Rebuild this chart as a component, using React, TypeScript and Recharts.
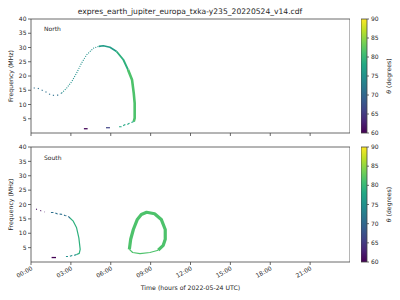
import { ScatterChart, Scatter, XAxis, YAxis, ReferenceArea } from "recharts";

type Pt = { t: number; f: number };

const TITLE = "expres_earth_jupiter_europa_txka-y235_20220524_v14.cdf";
const HOUR_TICKS = [0, 3, 6, 9, 12, 15, 18, 21];
const FREQ_TICKS = [5, 10, 15, 20, 25, 30, 35, 40];
const THETA_TICKS = [60, 65, 70, 75, 80, 85, 90];

// north hemisphere arc (hours, MHz)
const northLead: Pt[] = [
  { t: 0.2, f: 15.8 }, { t: 0.45, f: 15.8 }, { t: 0.8, f: 15.1 }, { t: 1.05, f: 14.6 },
  { t: 1.55, f: 13.2 }, { t: 2.05, f: 13.3 }, { t: 2.3, f: 14.0 },
];
const northRise: Pt[] = [
  { t: 2.3, f: 14.0 }, { t: 2.68, f: 15.75 }, { t: 3.06, f: 18 }, { t: 3.43, f: 21 },
  { t: 3.8, f: 24.5 }, { t: 4.18, f: 27.4 }, { t: 4.68, f: 29.7 }, { t: 5.1, f: 30.4 },
];
const northCrest: Pt[] = [
  { t: 5.1, f: 30.4 }, { t: 5.44, f: 30.6 }, { t: 5.94, f: 30.1 }, { t: 6.44, f: 28.6 },
];
const northFall: Pt[] = [
  { t: 6.44, f: 28.6 }, { t: 6.95, f: 25.7 }, { t: 7.3, f: 22.2 },
];
const northFallLow: Pt[] = [
  { t: 7.3, f: 22.2 }, { t: 7.6, f: 18.7 }, { t: 7.73, f: 14 }, { t: 7.8, f: 10.5 },
  { t: 7.8, f: 5.2 }, { t: 7.73, f: 4 },
];
const northTail: Pt[] = [
  { t: 7.73, f: 4 }, { t: 7.4, f: 3.4 }, { t: 7.2, f: 2.9 }, { t: 7.04, f: 2.9 },
  { t: 6.84, f: 2.2 }, { t: 6.6, f: 2.2 },
];
const northLowBlue: Pt[] = [{ t: 5.64, f: 1.85 }, { t: 5.94, f: 1.85 }];
const northLowPurple: Pt[] = [{ t: 3.98, f: 1.5 }, { t: 4.26, f: 1.5 }];

// south hemisphere arcs
const southHead: Pt[] = [{ t: 0.38, f: 18.4 }, { t: 0.75, f: 17.8 }, { t: 1.05, f: 17.4 }];
const southUpper: Pt[] = [
  { t: 1.5, f: 17.2 }, { t: 1.75, f: 17.2 }, { t: 2.0, f: 16.7 }, { t: 2.3, f: 16.6 },
  { t: 2.55, f: 16.2 }, { t: 2.8, f: 15.9 }, { t: 2.93, f: 15.3 },
];
const southBend: Pt[] = [
  { t: 2.93, f: 15.3 }, { t: 3.18, f: 14.2 }, { t: 3.43, f: 11.9 }, { t: 3.6, f: 8.4 },
  { t: 3.7, f: 4.4 }, { t: 3.63, f: 3.0 }, { t: 3.43, f: 2.6 },
];
const southTail: Pt[] = [
  { t: 3.43, f: 2.6 }, { t: 3.25, f: 2.3 }, { t: 3.1, f: 2.3 }, { t: 2.88, f: 1.9 }, { t: 2.63, f: 1.9 },
];
const southLow: Pt[] = [{ t: 1.55, f: 1.55 }, { t: 1.88, f: 1.55 }];
const southLoop: Pt[] = [
  { t: 7.4, f: 4.4 }, { t: 7.5, f: 7.9 }, { t: 7.7, f: 11.3 }, { t: 8.0, f: 14.8 },
  { t: 8.3, f: 16.5 }, { t: 8.7, f: 17.3 }, { t: 9.3, f: 16.8 }, { t: 9.8, f: 14.8 },
  { t: 10.1, f: 11.3 }, { t: 10.1, f: 7.9 }, { t: 9.95, f: 5.8 }, { t: 9.57, f: 4.1 },
];
const southLoopBase: Pt[] = [
  { t: 9.57, f: 4.1 }, { t: 8.95, f: 3.3 }, { t: 8.2, f: 2.9 }, { t: 7.65, f: 3.3 }, { t: 7.4, f: 4.4 },
];

// theta (degrees) per segment
const northTheta = [71, 75, 76.5, 79, 81.5, 78, 66, 60.5];
const southTheta = [61, 71, 79, 75, 60, 81.5, 81.5];

const northSegs = [northLead, northRise, northCrest, northFall, northFallLow, northTail, northLowBlue, northLowPurple];
const southSegs = [southHead, southUpper, southBend, southTail, southLow, southLoop, southLoopBase];

// stroke styles, same order as the segments
const northStyle = [
  { w: 1.1, dash: "1.2 3" }, { w: 1.1, dash: "1 1.3" }, { w: 1.6 }, { w: 1.9 }, { w: 2.6 },
  { w: 1.1, dash: "2.5 2" }, { w: 1.2 }, { w: 1.3 },
];
const southStyle = [
  { w: 1.1, dash: "1 3.5" }, { w: 1.1, dash: "2.5 2" }, { w: 1.2 }, { w: 1.1, dash: "2.5 2" },
  { w: 1.3 }, { w: 3.2 }, { w: 1.2 },
];

const VIRIDIS = ["#440154", "#482475", "#414487", "#355f8d", "#2a788e", "#21918c", "#22a884", "#44bf70", "#7ad151", "#bddf26", "#fde725"];

function viridis(theta: number) {
  const u = Math.max(0, Math.min(1, (theta - 60) / 30)) * 10;
  const i = Math.min(9, Math.floor(u));
  const k = u - i;
  const a = VIRIDIS[i], b = VIRIDIS[i + 1];
  const ch = (s: string, o: number) => parseInt(s.slice(o, o + 2), 16);
  const c = [1, 3, 5].map((o) => Math.round(ch(a, o) * (1 - k) + ch(b, o) * k));
  return `rgb(${c[0]},${c[1]},${c[2]})`;
}

const hhmm = (h: number) => `${String(h).padStart(2, "0")}:00`;
const FONT = "DejaVu Sans, sans-serif";
const INK = "#262626";

const noShape = () => <g />;
const noTick = () => <g />;

const hourTick = (p: any) => {
  const { x, y, payload } = p;
  return (
    <text x={x} y={y} dy={4} transform={`rotate(-30, ${x}, ${y})`} textAnchor="end" fontSize={6} fill={INK} fontFamily={FONT}>
      {hhmm(payload.value)}
    </text>
  );
};

function Panel({ segs, thetas, styles, top, labels }: { segs: Pt[][]; thetas: number[]; styles: any[]; top: number; labels: boolean }) {
  const axisH = labels ? 30 : 5;
  const plotH = labels ? 115 : 114;
  return (
    <div style={{ position: "absolute", left: 0, top }}>
      <ScatterChart width={350} height={9 + plotH + axisH} margin={{ top: 9, right: 0, bottom: 0, left: 0 }}>
        <XAxis
          type="number" dataKey="t" domain={[0, 24]} ticks={HOUR_TICKS} allowDataOverflow
          height={axisH} axisLine={false} tickSize={3} tickMargin={1}
          tickLine={{ stroke: "#444", strokeWidth: 0.8 }} tick={labels ? hourTick : noTick}
        />
        <YAxis
          type="number" dataKey="f" domain={[0, 40]} ticks={FREQ_TICKS} allowDataOverflow
          width={31} axisLine={false} tickSize={3} tickMargin={1.5}
          tickLine={{ stroke: "#444", strokeWidth: 0.8 }}
          tick={{ fontSize: 6, fill: INK, fontFamily: FONT }}
        />
        {segs.map((d, i) => (
          <Scatter
            key={i} data={d} shape={noShape} lineType="joint" isAnimationActive={false}
            line={{ stroke: viridis(thetas[i]), strokeWidth: styles[i].w, strokeDasharray: styles[i].dash, strokeLinejoin: "round" }}
          />
        ))}
        <ReferenceArea x1={0} x2={24} y1={0} y2={40} fill="none" fillOpacity={0} stroke="#444" strokeWidth={0.8} />
      </ScatterChart>
    </div>
  );
}

function ColorBar({ top, id, plotH }: { top: number; id: string; plotH: number }) {
  return (
    <div style={{ position: "absolute", left: 361, top }}>
      <ScatterChart width={39} height={9 + plotH + 5} margin={{ top: 9, right: 0, bottom: 5, left: 0 }}>
        <defs>
          <linearGradient id={id} x1="0" y1="1" x2="0" y2="0">
            {VIRIDIS.map((c, i) => (
              <stop key={i} offset={`${i * 10}%`} stopColor={c} />
            ))}
          </linearGradient>
        </defs>
        <XAxis type="number" dataKey="x" domain={[0, 1]} hide />
        <YAxis
          type="number" dataKey="theta" domain={[60, 90]} ticks={THETA_TICKS} orientation="right"
          width={33} axisLine={false} tickSize={2} tickMargin={2}
          tickLine={{ stroke: "#444", strokeWidth: 0.8 }}
          tick={{ fontSize: 6, fill: INK, fontFamily: FONT }}
        />
        <Scatter data={THETA_TICKS.map((v) => ({ x: 0.5, theta: v }))} shape={noShape} isAnimationActive={false} />
        <ReferenceArea x1={0} x2={1} y1={60} y2={90} fill={`url(#${id})`} fillOpacity={1} stroke="#444" strokeWidth={0.8} />
      </ScatterChart>
    </div>
  );
}

export default function App() {
  return (
    <div style={{ position: "absolute", left: 0, top: 0, width: 400, height: 300, background: "#fff", overflow: "hidden" }}>
      <Panel segs={northSegs} thetas={northTheta} styles={northStyle} top={10} labels={false} />
      <Panel segs={southSegs} thetas={southTheta} styles={southStyle} top={138} labels />
      <ColorBar top={10} id="virN" plotH={114} />
      <ColorBar top={138} id="virS" plotH={115} />
      <svg width={400} height={300} style={{ position: "absolute", left: 0, top: 0, pointerEvents: "none" }} fontFamily={FONT} fill={INK}>
        <text x={190} y={14} textAnchor="middle" fontSize={7.6}>{TITLE}</text>
        <text x={44} y={31} fontSize={6}>North</text>
        <text x={44} y={160} fontSize={6}>South</text>
        <text x={10} y={76} transform="rotate(-90, 10, 76)" textAnchor="middle" dominantBaseline="central" fontSize={6.2}>Frequency (MHz)</text>
        <text x={10} y={204.5} transform="rotate(-90, 10, 204.5)" textAnchor="middle" dominantBaseline="central" fontSize={6.2}>Frequency (MHz)</text>
        <text x={190.5} y={287} textAnchor="middle" dominantBaseline="central" fontSize={6.2}>Time (hours of 2022-05-24 UTC)</text>
        <text x={388} y={76} transform="rotate(-90, 388, 76)" textAnchor="middle" dominantBaseline="central" fontSize={6.2}>
          <tspan fontStyle="italic">θ</tspan> (degrees)
        </text>
        <text x={388} y={204.5} transform="rotate(-90, 388, 204.5)" textAnchor="middle" dominantBaseline="central" fontSize={6.2}>
          <tspan fontStyle="italic">θ</tspan> (degrees)
        </text>
      </svg>
    </div>
  );
}
